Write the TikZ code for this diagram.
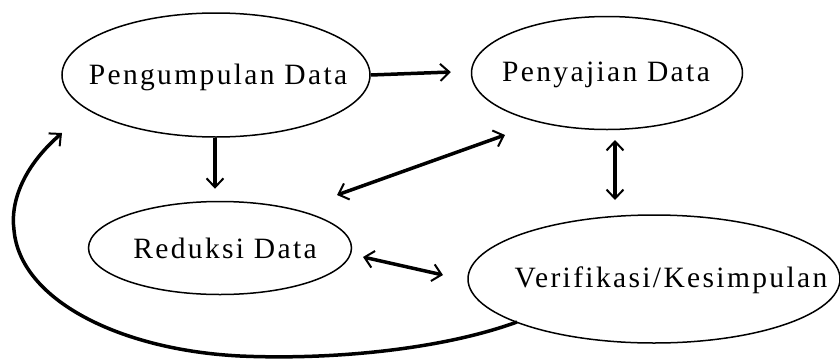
\documentclass[tikz,border=0pt]{standalone}
\usepackage{fontspec}
\setmainfont{Liberation Serif}[LetterSpace=8]
\usetikzlibrary{shapes.geometric,arrows.meta}
\tikzset{
  stage/.style={ellipse, draw, line width=1.5pt, inner sep=0pt},
  stagetext/.style={font=\fontsize{29.5}{32}\selectfont},
  flow/.style={line width=3.5pt, -{Straight Barb[length=9pt,width=17pt,line width=2pt]}},
  twoway/.style={line width=3.5pt, {Straight Barb[length=9pt,width=17pt,line width=2pt]}-{Straight Barb[length=9pt,width=17pt,line width=2pt]}}
}
\begin{document}
\begin{tikzpicture}[x=1pt,y=-1pt]
\useasboundingbox (0,0) rectangle (840,359);
% the four stages
\node[stage, minimum width=308pt, minimum height=124pt] (peng) at (216,75) {};
\node[stage, minimum width=271pt, minimum height=113pt] (peny) at (607,73) {};
\node[stage, minimum width=263pt, minimum height=93pt] (red) at (220,248) {};
\node[stage, minimum width=372pt, minimum height=128pt] (ver) at (654,279) {};
% stage labels
\node[stagetext] (pengT) at ([xshift=2pt,yshift=-2pt]peng.center) {Pengumpulan Data};
\node[stagetext] (penyT) at ([xshift=-1pt,yshift=-2pt]peny.center) {Penyajian Data};
\node[stagetext] (redT) at ([xshift=5pt]red.center) {Reduksi Data};
\node[stagetext] (verT) at ([xshift=17pt,yshift=-1pt]ver.center) {Verifikasi/Kesimpulan};
% connectors
\draw[flow] (peng.east) -- ([xshift=-20pt,yshift=1pt]peny.west);
\draw[flow] ([xshift=-1pt]peng.south) -- ([xshift=-5pt,yshift=12pt]red.north);
\draw[twoway] ([shift={(117pt,53pt)}]red.center) -- ([shift={(-102pt,-62pt)}]peny.center);
\draw[twoway] ([shift={(8pt,-67pt)}]peny.center) -- ([shift={(-39pt,79pt)}]ver.center);
\draw[twoway] ([shift={(143pt,-9pt)}]red.center) -- ([shift={(-211pt,4pt)}]ver.center);
% feedback loop from the conclusion back to data collection
\draw[flow] ([shift={(-137pt,-43pt)}]ver.center)
  .. controls (440,350) and (330,360) .. (240,356)
  .. controls (120,350) and (20,300) .. (14,230)
  .. controls (10,200) and (25,165) .. ([shift={(-154pt,-58pt)}]peng.center);
\end{tikzpicture}
\end{document}
